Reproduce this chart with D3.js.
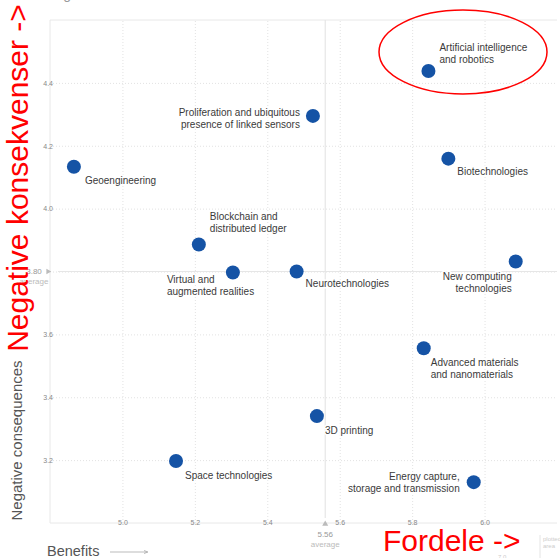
<!DOCTYPE html>
<html lang="en">
<head>
<meta charset="utf-8">
<title>Emerging technologies: benefits vs negative consequences</title>
<script src="https://cdn.jsdelivr.net/npm/d3@7"></script>
<style>
  body { margin: 0; background: #fff; }
  svg { font-family: "Liberation Sans", Arial, Helvetica, sans-serif; }
</style>
</head>
<body>
<script>
// data
var techs = [
  "Artificial intelligence|and robotics",
  "Proliferation and ubiquitous|presence of linked sensors",
  "Geoengineering",
  "Biotechnologies",
  "Blockchain and|distributed ledger",
  "Virtual and|augmented realities",
  "Neurotechnologies",
  "New computing|technologies",
  "Advanced materials|and nanomaterials",
  "3D printing",
  "Space technologies",
  "Energy capture,|storage and transmission"
];
var benefits  = [5.845, 5.526, 4.866, 5.90, 5.211, 5.305, 5.481, 6.086, 5.832, 5.537, 5.148, 5.970];
var negatives = [4.438, 4.295, 4.133, 4.159, 3.886, 3.797, 3.800, 3.832, 3.556, 3.340, 3.197, 3.130];
var xTicks = [5.0, 5.2, 5.4, 5.6, 5.8, 6.0];
var yTicks = [3.2, 3.4, 3.6, 4.0, 4.2, 4.4];
var avgBenefit = 5.56;
var avgNegative = 3.80;

// label placement (offset from point, anchor)
var labelPos = [
  {dx: 11,  dy: -20,  a: "start"},
  {dx: -13, dy: 0,    a: "end"},
  {dx: 11,  dy: 17.5, a: "start"},
  {dx: 9,   dy: 16.5, a: "start"},
  {dx: 11,  dy: -24.5,a: "start"},
  {dx: -66, dy: 10.5, a: "start"},
  {dx: 9,   dy: 15.5, a: "start"},
  {dx: -4,  dy: 18.5, a: "end"},
  {dx: 7,   dy: 17.5, a: "start"},
  {dx: 8,   dy: 17.5, a: "start"},
  {dx: 9,   dy: 17.5, a: "start"},
  {dx: -14, dy: -2.5, a: "end"}
];

var w = 560, h = 558;
var pLeft = 50, pTop = 20, pRight = 557, pBottom = 523;

var svg = d3.select("body").append("svg")
  .attr("width", w).attr("height", h);

var x = d3.scaleLinear().domain([4.8, 6.2]).range([pLeft, pRight]);
var y = d3.scaleLinear().domain([3.0, 4.6]).range([pBottom, pTop]);

// dotted grid
var gridX = svg.append("g")
  .attr("transform", "translate(0," + pBottom + ")")
  .call(d3.axisBottom(x).tickValues(xTicks).tickSize(-(pBottom - pTop)).tickFormat(""));
var gridY = svg.append("g")
  .attr("transform", "translate(" + pLeft + ",0)")
  .call(d3.axisLeft(y).tickValues([3.2, 3.4, 3.6, 3.8, 4.0, 4.2, 4.4]).tickSize(-(pRight - pLeft)).tickFormat(""));
[gridX, gridY].forEach(function(g) {
  g.select(".domain").remove();
  g.selectAll("line").attr("stroke", "#e2e2e2").attr("stroke-dasharray", "1,2");
});

// frame: top, left, bottom
svg.append("path")
  .attr("d", "M" + pRight + "," + pTop + "H" + pLeft + "V" + pBottom + "H" + pRight)
  .attr("fill", "none").attr("stroke", "#e8e8e8");

// average lines
svg.append("line")
  .attr("x1", pLeft + 8).attr("x2", pRight)
  .attr("y1", y(avgNegative)).attr("y2", y(avgNegative))
  .attr("stroke", "#e6e6e6").attr("stroke-width", 1.2);
svg.append("line")
  .attr("x1", x(avgBenefit)).attr("x2", x(avgBenefit))
  .attr("y1", pTop).attr("y2", pBottom - 5)
  .attr("stroke", "#e6e6e6").attr("stroke-width", 1.2);

// tick labels
var ax = svg.append("g")
  .attr("transform", "translate(0," + (pBottom - 2.5) + ")")
  .call(d3.axisBottom(x).tickValues(xTicks).tickSize(0).tickPadding(0).tickFormat(d3.format(".1f")));
var ay = svg.append("g")
  .attr("transform", "translate(" + (pLeft + 3) + ",0)")
  .call(d3.axisLeft(y).tickValues(yTicks).tickSize(0).tickPadding(0).tickFormat(d3.format(".1f")));
[ax, ay].forEach(function(g) {
  g.select(".domain").remove();
  g.selectAll("text").attr("fill", "#888").style("font-size", "7px")
    .style("font-family", "'Liberation Sans', Arial, sans-serif");
});

// average markers
svg.append("path")
  .attr("d", d3.symbol(d3.symbolTriangle, 14)())
  .attr("transform", "translate(" + (pLeft - 2) + "," + y(avgNegative) + ") rotate(90)")
  .attr("fill", "#bbb");
svg.append("text").attr("x", 34).attr("y", y(avgNegative) + 2.5)
  .attr("text-anchor", "middle").attr("fill", "#999").style("font-size", "8px")
  .text(avgNegative.toFixed(2));
svg.append("text").attr("x", 34).attr("y", y(avgNegative) + 12)
  .attr("text-anchor", "middle").attr("fill", "#bbb").style("font-size", "8px")
  .text("average");

svg.append("path")
  .attr("d", d3.symbol(d3.symbolTriangle, 16)())
  .attr("transform", "translate(" + x(avgBenefit) + "," + (pBottom + 1) + ")")
  .attr("fill", "#bbb");
svg.append("text").attr("x", x(avgBenefit)).attr("y", pBottom + 14)
  .attr("text-anchor", "middle").attr("fill", "#999").style("font-size", "8px")
  .text(avgBenefit.toFixed(2));
svg.append("text").attr("x", x(avgBenefit)).attr("y", pBottom + 24)
  .attr("text-anchor", "middle").attr("fill", "#bbb").style("font-size", "8px")
  .text("average");

// points
svg.selectAll("circle.pt")
  .data(techs)
  .enter().append("circle")
  .attr("class", "pt")
  .attr("cx", function(d, i) { return x(benefits[i]); })
  .attr("cy", function(d, i) { return y(negatives[i]); })
  .attr("r", 7)
  .attr("fill", "#1553a5");

// labels
svg.selectAll("text.lbl")
  .data(techs)
  .enter().append("text")
  .attr("class", "lbl")
  .attr("text-anchor", function(d, i) { return labelPos[i].a; })
  .attr("fill", "#3a3a3a")
  .attr("stroke", "#fff").attr("stroke-width", 3).attr("paint-order", "stroke")
  .style("font-size", "10px")
  .each(function(d, i) {
    var t = d3.select(this);
    var px = x(benefits[i]) + labelPos[i].dx;
    var py = y(negatives[i]) + labelPos[i].dy;
    d.split("|").forEach(function(line, k) {
      t.append("tspan").attr("x", px).attr("y", py + k * 12.5).text(line);
    });
  });

// axis titles
svg.append("text")
  .attr("transform", "translate(22," + ((pBottom + 358) / 2) + ") rotate(-90)")
  .attr("text-anchor", "middle").attr("fill", "#555")
  .style("font-size", "15px")
  .text("Negative consequences");
svg.append("text").attr("x", 47).attr("y", 556)
  .attr("fill", "#555").style("font-size", "14.5px")
  .text("Benefits");
svg.append("line").attr("x1", 110).attr("x2", 147).attr("y1", 552).attr("y2", 552)
  .attr("stroke", "#aaa").attr("stroke-width", 0.8);
svg.append("path").attr("d", "M144,550.5L148,552L144,553.5").attr("fill", "none")
  .attr("stroke", "#aaa").attr("stroke-width", 0.8);

// clipped bits at the edges
svg.append("text").attr("x", 50).attr("y", -1).attr("fill", "#999")
  .style("font-size", "14px").text("High");
svg.append("line").attr("x1", 540).attr("x2", 540).attr("y1", 535).attr("y2", 558)
  .attr("stroke", "#e4e4e4");
svg.append("text").attr("x", 543).attr("y", 541).attr("fill", "#ccc")
  .style("font-size", "6px").text("plotted");
svg.append("text").attr("x", 543).attr("y", 548).attr("fill", "#ccc")
  .style("font-size", "6px").text("area");
svg.append("text").attr("x", 498).attr("y", 559).attr("fill", "#ccc")
  .style("font-size", "6px").text("7.0");

// red annotations
svg.append("ellipse")
  .attr("cx", 463).attr("cy", 52).attr("rx", 84).attr("ry", 42)
  .attr("fill", "none").attr("stroke", "#f00").attr("stroke-width", 1.5);
svg.append("text")
  .attr("transform", "translate(28,178) rotate(-90)")
  .attr("text-anchor", "middle").attr("fill", "#f00")
  .style("font-size", "30px")
  .text("Negative konsekvenser ->");
svg.append("text").attr("x", 383).attr("y", 551)
  .attr("fill", "#f00").style("font-size", "30px")
  .text("Fordele ->");
</script>
</body>
</html>
